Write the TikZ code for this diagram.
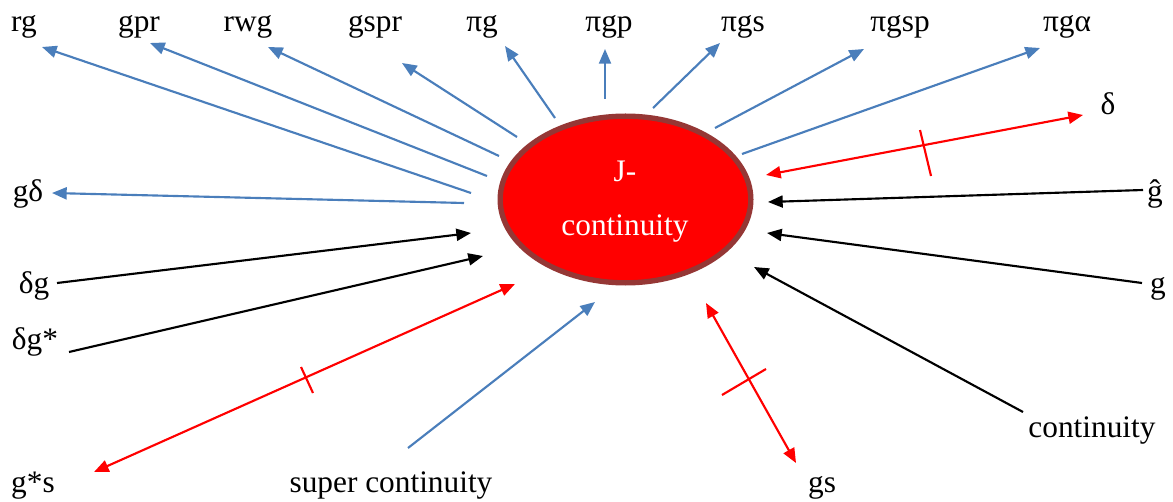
\documentclass[tikz,border=0pt]{standalone}
\usepackage{fontspec}
\setmainfont{Liberation Serif}
\usetikzlibrary{arrows.meta,shapes.geometric}
\definecolor{linkblue}{HTML}{4A7EBB}
\definecolor{ovalrim}{HTML}{953735}

\begin{document}
\begin{tikzpicture}[x=0.75pt,y=-0.75pt,
  lbl/.style={anchor=base,inner sep=0pt,font=\fontsize{23.5}{28}\selectfont},
  head/.style={Triangle[length=11pt,width=9pt]},
  bluearr/.style={draw=linkblue,line width=1.6pt,-{Triangle[length=11pt,width=9pt]}},
  blackarr/.style={draw=black,line width=1.6pt,-{Triangle[length=11pt,width=9pt]}},
  redarr/.style={draw=red,line width=1.6pt,{Triangle[length=11pt,width=9pt]}-{Triangle[length=11pt,width=9pt]}},
  tickmark/.style={draw=red,line width=1.6pt}]
\useasboundingbox (0,0) rectangle (1173,502);

% the oval
\node[ellipse,draw=ovalrim,fill=red,line width=4pt,minimum width=188pt,minimum height=125pt,inner sep=0pt] (J) at (625.5,199.5) {};
\node[lbl,white] (J1) at (625,182) {J-};
\node[lbl,white] (J2) at (625,235) {continuity};

% labels
\node[lbl] (rg) at (24,32) {rg};
\node[lbl] (gpr) at (139,32) {gpr};
\node[lbl] (rwg) at (248,32) {rwg};
\node[lbl] (gspr) at (375,32) {gspr};
\node[lbl] (pig) at (482,32) {πg};
\node[lbl] (pigp) at (609,32) {πgp};
\node[lbl] (pigs) at (743,32) {πgs};
\node[lbl] (pigsp) at (900,32) {πgsp};
\node[lbl] (piga) at (1067,32) {πgα};
\node[lbl] (delta) at (1108,115) {δ};
\node[lbl] (ghat) at (1155,202) {ĝ};
\node[lbl] (g) at (1158,293) {g};
\node[lbl] (cont) at (1092,437) {continuity};
\node[lbl] (gs) at (822,492) {gs};
\node[lbl] (supc) at (391,492) {super continuity};
\node[lbl] (gstars) at (33,492) {g*s};
\node[lbl] (dgstar) at (35,349) {δg*};
\node[lbl] (dg) at (34,293) {δg};
\node[lbl] (gd) at (28,202) {gδ};

% blue arrows
\foreach \n/\ax/\ay/\bx/\by in {rg/471/193/42/47, gpr/487/176/150/43, rwg/499/156/268/47,
    gspr/517/137/402/63, pig/555/118/505/46, pigp/605/99/605/49, pigs/653/108/720/43,
    pigsp/715/128/864/49, piga/742/154/1040/48, gd/464/203/52/193, supc/408/448/595/302}
  {\draw[bluearr] (\ax,\ay) coordinate (\n-s) -- (\bx,\by) coordinate (\n-e);}

% black arrows
\foreach \n/\ax/\ay/\bx/\by in {ghat/1143/190/768/202, g/1142/283/767/233, cont/1023/412/754/267,
    dg/57/283/471/233, dgstar/69/352/483/256}
  {\draw[blackarr] (\ax,\ay) coordinate (\n-s) -- (\bx,\by) coordinate (\n-e);}

% red arrows with a bar
\foreach \n/\ax/\ay/\bx/\by in {delta/766/175/1083/115, gs/706/303/796/463, gstars/94/472/515/284}
  {\draw[redarr] (\ax,\ay) coordinate (\n-s) -- (\bx,\by) coordinate (\n-e);}
\draw[tickmark] (920,130) -- (931,176);
\draw[tickmark] (722,395) -- (766,369);
\draw[tickmark] (301,367) -- (313,393);
\end{tikzpicture}
\end{document}
